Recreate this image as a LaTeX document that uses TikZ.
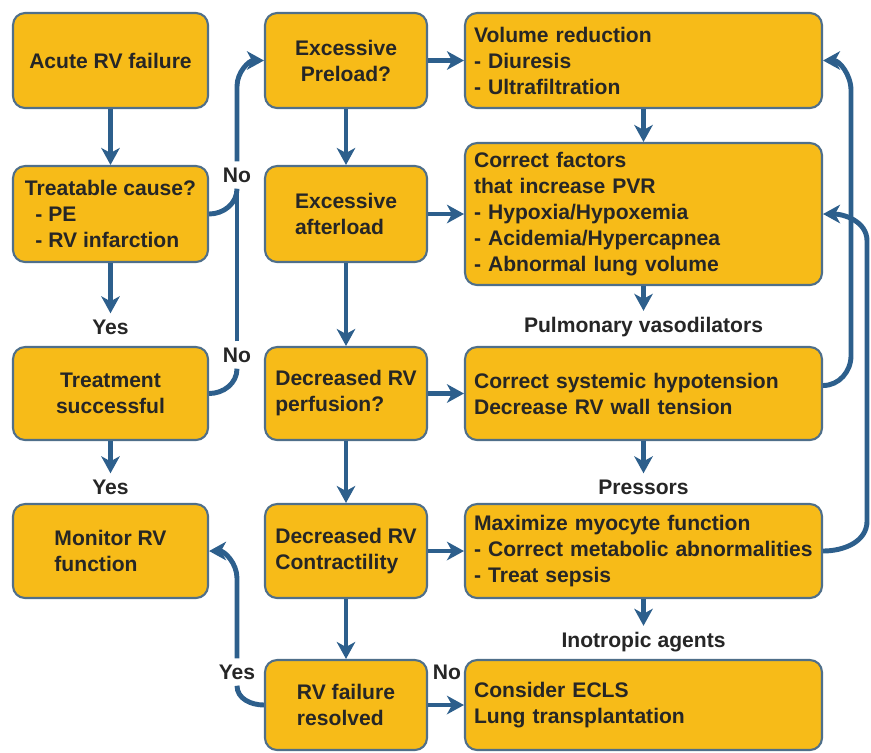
\documentclass[tikz,border=0pt]{standalone}
\usepackage{fontspec}
\setmainfont{Liberation Sans}
\usetikzlibrary{arrows.meta}

\definecolor{boxfill}{HTML}{F7BB18}
\definecolor{boxline}{HTML}{4F6F8A}
\definecolor{flow}{HTML}{2D5F8C}
\definecolor{ink}{HTML}{262626}

\tikzset{
  box/.style={draw=boxline, line width=1.2pt, fill=boxfill, rounded corners=0.24cm,
    text=ink, font=\fontsize{12}{14.8}\selectfont\bfseries, align=left, inner sep=0pt},
  wide/.style={box, text width=6.78cm, inner xsep=0.18cm},
  lnk/.style={draw=flow, line width=2.8pt},
  arr/.style={lnk, -{Stealth[length=0.34cm,width=0.37cm,inset=0.1cm]}},
  lbl/.style={text=ink, font=\fontsize{12}{14.8}\selectfont\bfseries, fill=white,
    inner xsep=1pt, inner ysep=0.12cm},
}

\begin{document}
\begin{tikzpicture}[x=0.02cm, y=0.02cm]
  \useasboundingbox (0,0) rectangle (871,-752);

  % left column
  \node[box, minimum width=3.9cm, minimum height=1.9cm] (acute) at (110.5,-60.5) {Acute RV failure};
  \node[box, minimum width=3.9cm, minimum height=1.92cm] (treat) at (110.5,-214)
    {Treatable cause?\\\hspace{0.5em}- PE\\\hspace{0.5em}- RV infarction};
  \node[box, align=center, minimum width=3.9cm, minimum height=1.86cm] (success) at (110.5,-393.5) {Treatment\\successful};
  \node[box, minimum width=3.9cm, minimum height=1.88cm] (monitor) at (110.5,-551) {Monitor RV\\function\hspace{0.1cm}};

  % middle column
  \node[box, align=center, minimum width=3.24cm, minimum height=1.9cm] (preload) at (346,-60.5) {Excessive\\Preload?};
  \node[box, minimum width=3.24cm, minimum height=1.92cm] (after) at (346,-214) {Excessive\\afterload};
  \node[box, minimum width=3.24cm, minimum height=1.86cm] (perf) at (346,-393.5) {Decreased RV\\perfusion?};
  \node[box, minimum width=3.24cm, minimum height=1.88cm] (contr) at (346,-551) {Decreased RV\\Contractility};
  \node[box, minimum width=3.24cm, minimum height=1.8cm] (resolved) at (346,-705) {RV failure\\resolved};

  % right column
  \node[wide, minimum height=1.9cm] (vol) at (643.5,-60.5) {Volume reduction\\- Diuresis\\- Ultrafiltration};
  \node[wide, minimum height=2.84cm] (corr) at (643.5,-214)
    {Correct factors\\that increase PVR\\- Hypoxia/Hypoxemia\\- Acidemia/Hypercapnea\\- Abnormal lung volume};
  \node[wide, minimum height=1.86cm] (hypo) at (643.5,-393.5) {Correct systemic hypotension\\Decrease RV wall tension};
  \node[wide, minimum height=1.88cm] (myo) at (643.5,-551)
    {Maximize myocyte function\\- Correct metabolic abnormalities\\- Treat sepsis};
  \node[wide, minimum height=1.8cm] (ecls) at (643.5,-705) {Consider ECLS\\Lung transplantation};

  % yes/no and therapy labels
  \node[lbl] (yes1) at (110.5,-327) {Yes};
  \node[lbl] (yes2) at (110.5,-487) {Yes};
  \node[lbl] (yes3) at (237,-672) {Yes};
  \node[lbl] (no1) at (237,-175) {No};
  \node[lbl] (no2) at (237,-355) {No};
  \node[lbl] (no3) at (447,-672) {No};
  \node[lbl] (vaso) at (643.5,-327) {Pulmonary vasodilators};
  \node[lbl] (press) at (643.5,-487) {Pressors};
  \node[lbl] (ino) at (643.5,-642) {Inotropic agents};

  % straight arrows
  \draw[arr] (acute) -- (treat);
  \draw[arr] (treat) -- (yes1);
  \draw[arr] (success) -- (yes2);
  \draw[arr] (preload) -- (after);
  \draw[arr] (after) -- (perf);
  \draw[arr] (perf) -- (contr);
  \draw[arr] (contr) -- (resolved);
  \draw[arr] (preload) -- (vol);
  \draw[arr] (after) -- (corr);
  \draw[arr] (perf) -- (hypo);
  \draw[arr] (contr) -- (myo);
  \draw[arr] (resolved) -- (ecls);
  \draw[arr] (vol) -- (corr);
  \draw[arr] (corr) -- (vaso);
  \draw[arr] (hypo) -- (press);
  \draw[arr] (myo) -- (ino);

  % "no" branch up to the preload box
  \draw[lnk] (treat.east) to[out=0,in=-90] (no1.south);
  \draw[lnk] (success.east) to[out=0,in=-90] (no2.south);
  \draw[lnk] (no2.north) -- (no1.south);
  \draw[arr] (no1.north) -- ++(0,75) to[out=90,in=180] (preload.west);

  % resolved: back to monitoring
  \draw[lnk] (resolved.west) to[out=180,in=-90] (yes3.south);
  \draw[arr] (yes3.north) -- ++(0,80) to[out=90,in=0] (monitor.east);

  % feedback loops on the right
  \draw[arr] ([yshift=0.16cm]hypo.east) to[out=0,in=-90] ++(28,30) -- ++(0,265) to[out=90,in=0] (vol.east);
  \draw[arr] (myo.east) to[out=0,in=-90] ++(44,30) -- ++(0,280) to[out=90,in=0] (corr.east);
\end{tikzpicture}
\end{document}
